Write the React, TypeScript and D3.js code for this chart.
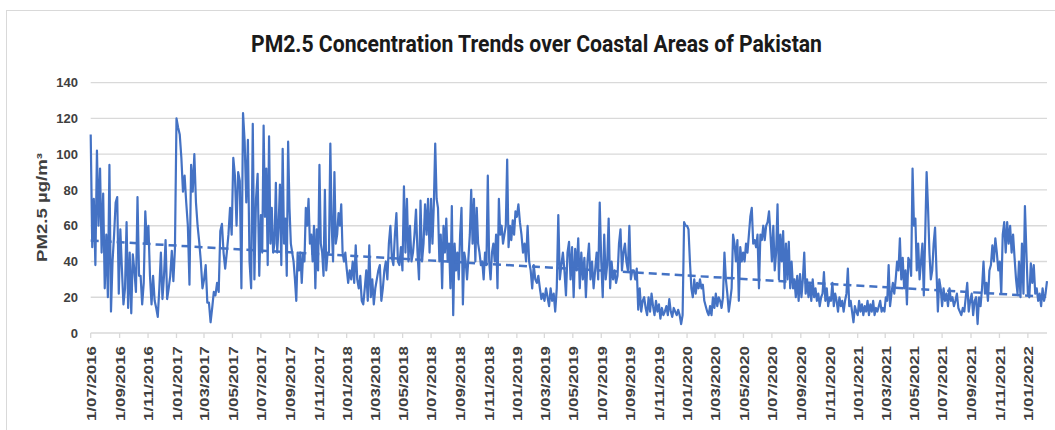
import React from 'react';
import * as d3 from 'd3';

// PM2.5 readings (µg/m³), spread evenly over each half-year period
const s2016H2 = [111, 48, 75, 38, 102, 60, 92, 45, 78, 25, 55, 20, 94, 12, 40, 55, 73, 76, 22, 58, 36, 16, 25, 62, 14, 45, 11, 44, 35, 23, 76, 32, 32, 16, 28, 68, 50, 60, 32, 16, 32, 18, 14, 9, 25, 45, 19, 32, 52, 19, 25, 32, 46, 29, 47];
const s2017H1 = [120, 115, 111, 98, 79, 88, 73, 60, 27, 94, 79, 100, 73, 60, 51, 40, 25, 30, 38, 17, 17, 6, 14, 23, 21, 28, 23, 57, 61, 45, 36, 45, 55, 70, 55, 98, 88, 60, 90, 85, 25, 123, 107, 73, 108, 40, 25, 117, 30, 75, 89, 32];
const s2017H2 = [66, 45, 116, 65, 92, 38, 110, 50, 70, 45, 50, 84, 45, 60, 83, 38, 103, 50, 64, 32, 107, 70, 50, 45, 40, 30, 18, 45, 35, 45, 28, 44, 40, 70, 60, 75, 50, 55, 40, 60, 25, 58, 35, 94, 50, 45, 32, 80, 35, 45, 45, 106, 60, 40, 90, 50, 55, 67, 60, 72, 45, 40, 45];
const s2018H1 = [36, 28, 35, 30, 40, 28, 49, 30, 25, 32, 18, 16, 25, 35, 18, 49, 20, 30, 16, 25, 30, 35, 38, 18, 25, 35, 40, 30, 50, 60, 42, 38, 55, 67, 40, 38, 48, 35, 82, 45, 75, 40, 60, 40, 45, 55, 69, 45, 30, 74, 40, 50, 72, 55, 75, 45];
const s2018H2 = [75, 50, 72, 106, 75, 70, 40, 55, 25, 60, 45, 64, 40, 50, 25, 71, 10, 50, 35, 45, 30, 55, 70, 16, 45, 40, 30, 42, 55, 80, 50, 75, 40, 70, 50, 45, 38, 40, 30, 45, 38, 88, 40, 30, 45, 50, 40, 55, 25, 75, 55, 60, 50, 55, 60, 97, 48, 60, 52, 63, 55, 68];
const s2019H1 = [65, 72, 62, 55, 45, 50, 40, 60, 40, 35, 25, 38, 30, 28, 32, 25, 19, 22, 18, 25, 20, 15, 25, 18, 22, 12, 25, 66, 30, 38, 45, 35, 21, 45, 51, 30, 48, 20, 47, 35, 53, 25, 45, 30, 42, 20, 40, 50, 30, 40, 25, 35, 45, 30, 73];
const s2019H2 = [40, 20, 55, 30, 38, 64, 25, 40, 30, 35, 28, 32, 50, 58, 35, 45, 50, 40, 35, 60, 30, 35, 35, 30, 36, 13, 25, 12, 18, 20, 14, 10, 20, 12, 22, 15, 10, 18, 12, 16, 8, 14, 10, 12, 15, 10, 19, 12, 9, 14, 12, 10, 13, 10, 5, 10, 62, 60];
const s2020H1 = [60, 58, 40, 25, 20, 30, 22, 28, 25, 30, 25, 27, 18, 15, 12, 10, 15, 10, 20, 14, 22, 15, 20, 18, 14, 20, 45, 30, 22, 12, 18, 25, 55, 50, 40, 52, 18, 48, 40, 45, 40, 50, 45, 55, 65, 70, 50, 52, 48, 55, 25, 55, 52, 60, 52, 60, 62, 68, 55];
const s2020H2 = [40, 60, 35, 45, 72, 30, 55, 40, 57, 25, 50, 30, 51, 25, 40, 25, 30, 20, 32, 18, 33, 20, 30, 45, 22, 30, 20, 28, 18, 30, 20, 25, 18, 22, 15, 20, 22, 34, 18, 25, 15, 20, 18, 28, 15, 22, 18, 12, 20, 15, 18, 12, 18, 22, 36, 15, 18, 12, 6, 15, 12];
const s2021H1 = [10, 18, 12, 16, 10, 15, 12, 18, 10, 16, 12, 18, 10, 14, 12, 15, 18, 12, 14, 12, 20, 18, 38, 15, 22, 28, 22, 30, 40, 35, 53, 30, 42, 25, 35, 16, 42, 40, 32, 92, 60, 64, 35, 50, 30, 40, 50, 21, 55, 90, 70, 45, 30, 35, 50, 59, 35, 12, 30, 25];
const s2021H2 = [15, 25, 18, 22, 15, 25, 18, 20, 15, 18, 22, 14, 12, 10, 14, 12, 20, 28, 12, 18, 22, 10, 18, 20, 5, 20, 15, 25, 40, 22, 28, 18, 35, 38, 49, 40, 53, 45, 35, 40, 22, 55, 62, 45, 62, 50, 60, 45, 55, 42, 30, 22, 40, 20, 50, 22, 71, 45];
const s2022H1 = [22, 20, 39, 28, 38, 22, 25, 18, 22, 15, 25, 18, 22, 29];

const segmentStarts = ['2016-07-01', '2017-01-01', '2017-07-01', '2018-01-01', '2018-07-01', '2019-01-01', '2019-07-01', '2020-01-01', '2020-07-01', '2021-01-01', '2021-07-01', '2022-01-01'];
const segments = [s2016H2, s2017H1, s2017H2, s2018H1, s2018H2, s2019H1, s2019H2, s2020H1, s2020H2, s2021H1, s2021H2, s2022H1];
const dataEnd = '2022-02-11';

// linear trendline values at the first and last date
const trendValues = [51.7, 20.3];

const yTicks = [0, 20, 40, 60, 80, 100, 120, 140];
const chartTitle = 'PM2.5 Concentration Trends over Coastal Areas of Pakistan';
const yTitle = 'PM2.5 µg/m³';

const W = 1055;
const H = 430;
const plot = { left: 90.7, right: 1047, top: 82.7, bottom: 333 };
const BLUE = '#4472C4';
const GRID = '#D9D9D9';
const TEXT = '#404040';

function parseDate(s: string) {
  const [y, m, d] = s.split('-').map(Number);
  return new Date(y, m - 1, d);
}

type Pt = { date: Date; value: number };

function buildPoints(): Pt[] {
  const pts: Pt[] = [];
  segments.forEach((vals, i) => {
    const start = parseDate(segmentStarts[i]);
    const last = i === segments.length - 1;
    const end = last ? parseDate(dataEnd) : parseDate(segmentStarts[i + 1]);
    const step = (+end - +start) / (last ? vals.length - 1 : vals.length);
    vals.forEach((v, k) => pts.push({ date: new Date(+start + k * step), value: v }));
  });
  return pts;
}

export default function App() {
  const points = buildPoints();
  const t0 = parseDate(segmentStarts[0]);
  const t1 = parseDate(dataEnd);
  const x = d3.scaleTime().domain([t0, t1]).range([plot.left, plot.right]);
  const y = d3.scaleLinear().domain([0, 140]).range([plot.bottom, plot.top]);

  const line = d3
    .line<Pt>()
    .x((d) => x(d.date))
    .y((d) => y(d.value));

  const trend: Pt[] = [
    { date: t0, value: trendValues[0] },
    { date: t1, value: trendValues[1] },
  ];

  const tickDates = d3.timeMonth.every(2)!.range(t0, t1);
  const fmt = d3.timeFormat('%-d/%m/%Y');

  return (
    <svg width={W} height={H} style={{ position: 'absolute', left: 0, top: 0, background: '#fff' }}>
      <rect x={6.5} y={10.5} width={1100} height={500} fill="#fff" stroke={GRID} strokeWidth={1} />
      <text
        x={536.5}
        y={52}
        textAnchor="middle"
        fontFamily="'Liberation Sans Narrow', Roboto, 'Liberation Sans', sans-serif"
        fontWeight="bold"
        fontSize={24}
        fill="#1a1a1a"
        textLength={571}
        lengthAdjust="spacingAndGlyphs"
      >
        {chartTitle}
      </text>

      {yTicks.map((t) => (
        <g key={t}>
          <line x1={plot.left} x2={plot.right} y1={y(t)} y2={y(t)} stroke={GRID} strokeWidth={1.3} />
          <text
            x={78}
            y={y(t)}
            dy="0.36em"
            textAnchor="end"
            fontFamily="'Liberation Sans', Arial, sans-serif"
            fontWeight="bold"
            fontSize={13}
            fill={TEXT}
          >
            {t}
          </text>
        </g>
      ))}

      {tickDates.map((d, i) => {
        const tx = x(d);
        return (
          <g key={i}>
            <line x1={tx} x2={tx} y1={plot.bottom} y2={plot.bottom + 5} stroke={GRID} strokeWidth={1.3} />
            <text
              transform={`translate(${tx + 1},346) rotate(-90)`}
              textAnchor="end"
              dy="0.36em"
              fontFamily="'Liberation Sans', Arial, sans-serif"
              fontWeight="bold"
              fontSize={12}
              fill={TEXT}
              textLength={75}
              lengthAdjust="spacingAndGlyphs"
            >
              {fmt(d)}
            </text>
          </g>
        );
      })}

      <text
        transform={`translate(47,207.5) rotate(-90)`}
        textAnchor="middle"
        fontFamily="'Liberation Sans', Arial, sans-serif"
        fontWeight="bold"
        fontSize={14}
        fill={TEXT}
        textLength={109}
        lengthAdjust="spacingAndGlyphs"
      >
        {yTitle}
      </text>

      <path d={line(points) || ''} fill="none" stroke={BLUE} strokeWidth={2.2} strokeLinejoin="round" />
      <path d={line(trend) || ''} fill="none" stroke={BLUE} strokeWidth={2.5} strokeDasharray="8,5" />
    </svg>
  );
}
